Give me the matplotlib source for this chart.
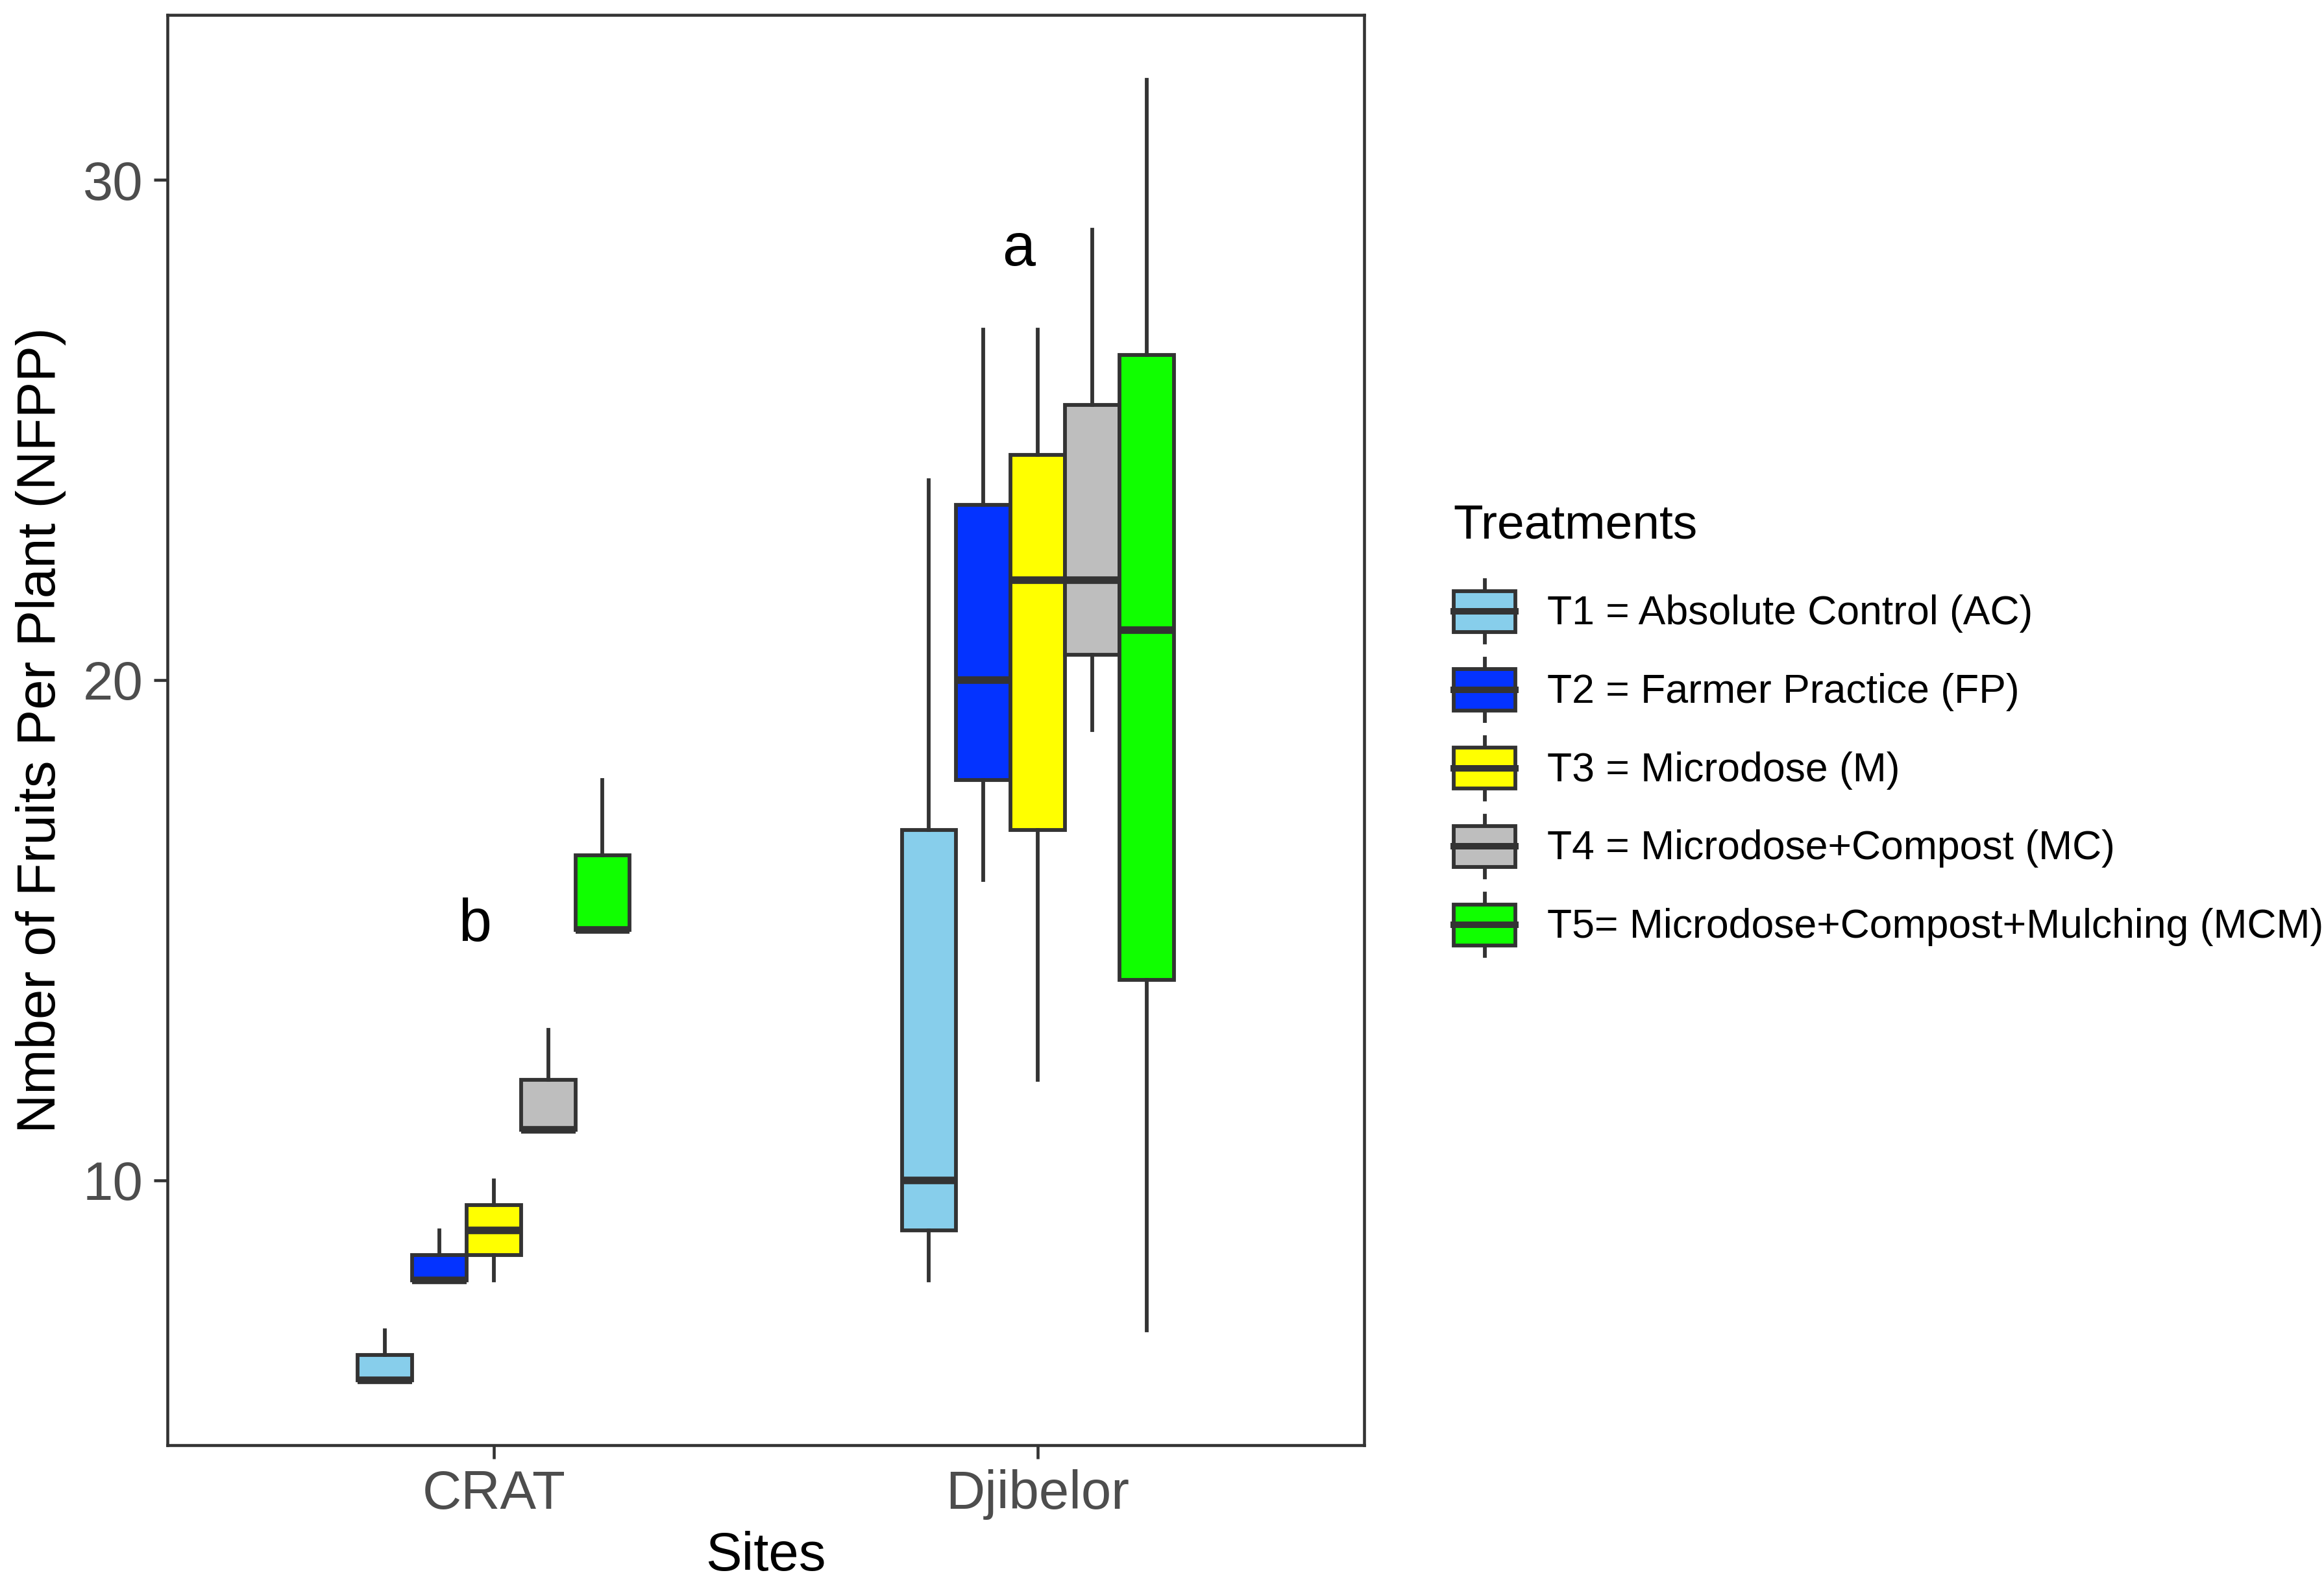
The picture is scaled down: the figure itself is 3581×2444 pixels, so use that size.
import matplotlib
matplotlib.use("Agg")
import matplotlib.pyplot as plt
from matplotlib.patches import Rectangle, Patch
from matplotlib.lines import Line2D
from matplotlib.legend_handler import HandlerBase

plt.rcParams['font.family'] = ['Liberation Sans', 'DejaVu Sans']

sites = ["CRAT", "Djibelor"]
treatments = ["T1 = Absolute Control (AC)", "T2 = Farmer Practice (FP)",
              "T3 = Microdose (M)", "T4 = Microdose+Compost (MC)",
              "T5= Microdose+Compost+Mulching (MCM)"]
colors = ["#87CEEB", "#0433FF", "#FFFF00", "#BEBEBE", "#10FF00"]

# per site, per treatment: low whisker, q1, median, q3, high whisker
crat = [(6, 6, 6, 6.5, 7),
        (8, 8, 8, 8.5, 9),
        (8, 8.5, 9, 9.5, 10),
        (11, 11, 11, 12, 13),
        (15, 15, 15, 16.5, 18)]
djibelor = [(8, 9, 10, 17, 24),
            (16, 18, 20, 23.5, 27),
            (12, 17, 22, 24.5, 27),
            (19, 20.5, 22, 25.5, 29),
            (7, 14, 21, 26.5, 32)]
letters = ["b", "a"]
letter_y = [15.1, 28.6]

edge = "#333333"

fig = plt.figure(figsize=(3581 / 300, 2444 / 300), dpi=300)
ax = fig.add_axes([0.072, 0.0888, 0.515, 0.9018])

slot = 0.1
for i, site_stats in enumerate([crat, djibelor]):
    stats, pos = [], []
    for j, (lo, q1, med, q3, hi) in enumerate(site_stats):
        stats.append(dict(whislo=lo, q1=q1, med=med, q3=q3, whishi=hi, label=""))
        pos.append(i + 1 + (j - 2) * slot)
    bp = ax.bxp(stats, positions=pos, widths=slot, patch_artist=True,
                showfliers=False, showcaps=False, manage_ticks=False,
                boxprops=dict(edgecolor=edge, linewidth=1.4),
                whiskerprops=dict(color=edge, linewidth=1.4),
                medianprops=dict(color=edge, linewidth=2.8, solid_capstyle="butt"))
    for box, c in zip(bp["boxes"], colors):
        box.set_facecolor(c)
    ax.text(i + 1 - 0.035, letter_y[i], letters[i], fontsize=22,
            ha="center", va="center", color="black")

ax.set_xlim(0.4, 2.6)
ax.set_ylim(4.7, 33.3)
ax.set_xticks([1, 2])
ax.set_xticklabels(sites)
ax.set_yticks([10, 20, 30])
ax.tick_params(axis="both", labelsize=20, labelcolor="#4D4D4D", color=edge,
               length=5, width=1.1, pad=4)
for s in ax.spines.values():
    s.set_color(edge)
    s.set_linewidth(1.1)
ax.set_xlabel("Sites", fontsize=20, labelpad=4)
ax.set_ylabel("Nmber of Fruits Per Plant (NFPP)", fontsize=20, labelpad=6)


class BoxKey(HandlerBase):
    def create_artists(self, legend, orig_handle, xdescent, ydescent,
                       width, height, fontsize, trans):
        x0, y0 = -xdescent, -ydescent
        bh = height * 0.66
        by = y0 + (height - bh) / 2
        cx = x0 + width / 2
        rect = Rectangle((x0, by), width, bh, facecolor=orig_handle.get_facecolor(),
                         edgecolor=edge, linewidth=1.4, transform=trans)
        med = Line2D([x0, x0 + width], [y0 + height / 2] * 2, color=edge,
                     linewidth=2.4, transform=trans)
        w1 = Line2D([cx, cx], [y0, by], color=edge, linewidth=1.4, transform=trans)
        w2 = Line2D([cx, cx], [by + bh, y0 + height], color=edge, linewidth=1.4,
                    transform=trans)
        return [w1, w2, rect, med]


handles = [Patch(facecolor=c) for c in colors]
leg = fig.legend(handles, treatments, handler_map={Patch: BoxKey()},
                 loc="center left", bbox_to_anchor=(0.6185, 0.540),
                 frameon=False, fontsize=15, title="Treatments",
                 title_fontsize=18, alignment="left",
                 handlelength=1.53, handleheight=1.98, labelspacing=0.4,
                 handletextpad=0.78, borderaxespad=0)
leg._legend_box.sep = 12

fig.savefig("out.png", dpi=300, facecolor="white")
